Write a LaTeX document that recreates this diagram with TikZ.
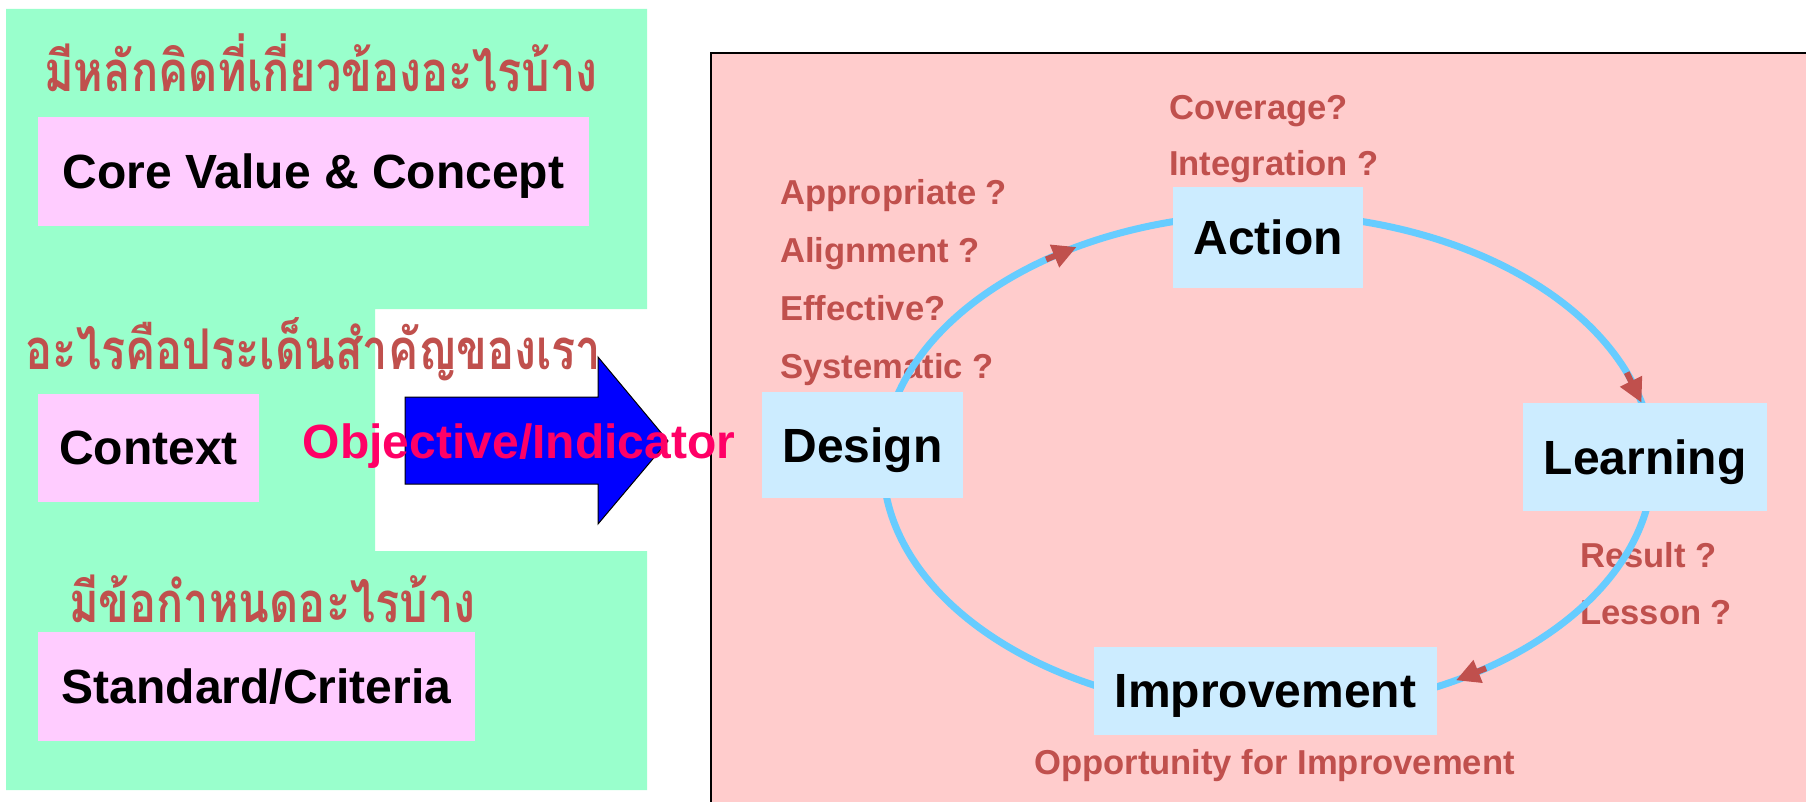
\documentclass[tikz,border=0pt]{standalone}
\usepackage{fontspec}
\setmainfont{Liberation Sans}
\newfontfamily\thaifont[Script=Thai]{Loma}
\usetikzlibrary{arrows.meta,calc}

\definecolor{panelgreen}{HTML}{99FFCC}
\definecolor{panelpink}{HTML}{FFCCCC}
\definecolor{boxpink}{HTML}{FFCCFF}
\definecolor{boxblue}{HTML}{CCECFF}
\definecolor{ringblue}{HTML}{66CCFF}
\definecolor{askred}{HTML}{C0504D}
\definecolor{objred}{HTML}{FF0066}

\newcommand{\thaiq}[1]{\scalebox{0.866}[1.08]{#1}}

\begin{document}
\begin{tikzpicture}[x = 1pt, y = -1pt,
  thai/.style = {anchor = base west, text = askred, inner sep = 0, font = \thaifont\bfseries\fontsize{52}{60}\selectfont},
  leftbox/.style = {fill = boxpink, inner sep = 0, text depth = 0pt, font = \bfseries\fontsize{48}{56}\selectfont},
  stagebox/.style = {fill = boxblue, inner sep = 0, text depth = 0pt, font = \bfseries\fontsize{48}{56}\selectfont},
  ask/.style = {anchor = base west, text = askred, inner sep = 0, font = \bfseries\fontsize{34.6}{40}\selectfont},
  ringarrow/.style = {draw = askred, line width = 6pt, -{Triangle[length = 24pt, width = 23pt]}}]
\clip (0,0) rectangle (1806,802);
\fill[white] (0,0) rectangle (1806,802);
% left panel, cut out where the arrow sits
\fill[panelgreen] (6,9) -- (647,9) -- (647,309) -- (375,309) -- (375,551) -- (647,551) -- (647,790) -- (6,790) -- cycle;
\filldraw[fill = panelpink, draw = black, line width = 1.5pt] (711,53) rectangle (1830,830);

\node[thai] (q1) at (44,92) {\thaiq{มีหลักคิดที่เกี่ยวข้องอะไรบ้าง}};
\node[leftbox, minimum width = 551pt, minimum height = 109pt] (core) at (313.5,171.5) {Core Value \& Concept};
\node[thai] (q2) at (25,369) {\thaiq{อะไรคือประเด็นสำคัญของเรา}};
\node[leftbox, minimum width = 221pt, minimum height = 108pt] (context) at (148.5,448) {Context};
\node[thai] (q3) at (69,622) {\thaiq{มีข้อกำหนดอะไรบ้าง}};
\node[leftbox, minimum width = 437pt, minimum height = 109pt] (standard) at (256.5,686.5) {Standard/Criteria};

% big arrow into the cycle
\filldraw[fill = blue, draw = black, line width = 1pt] (405,397) -- (598,397) -- (598,357) -- (668,441) -- (598,524) -- (598,484) -- (405,484) -- cycle;
\node[anchor = base, text = objred, inner sep = 0, font = \bfseries\fontsize{48}{56}\selectfont] (objective) at (519,458) {Objective/Indicator};

% questions
\node[ask] (coverage) at (1169,120) {Coverage?};
\node[ask] (integration) at (1169,176) {Integration ?};
\node[ask] (appropriate) at (780,205) {Appropriate ?};
\node[ask] (alignment) at (780,263) {Alignment ?};
\node[ask] (effective) at (780,320) {Effective?};
\node[ask] (systematic) at (780,378) {Systematic ?};
\node[ask] (result) at (1580,567) {Result ?};
\node[ask] (lesson) at (1580,624) {Lesson ?};
\node[ask] (opportunity) at (1034,774) {Opportunity for Improvement};

% the cycle
\coordinate (ring) at (1268,463);
\draw[ringblue, line width = 7pt] (ring) ellipse [x radius = 385pt, y radius = 249pt];
\foreach \name/\from/\to in {a/125.2/119.8, b/21.3/14, c/-55.5/-60.8} {
  \coordinate (\name s) at ($(ring) + ({385*cos(\from)}, {-249*sin(\from)})$);
  \coordinate (\name e) at ($(ring) + ({385*cos(\to)}, {-249*sin(\to)})$);
  \draw[ringarrow] (\name s) -- (\name e);
}

\node[stagebox, minimum width = 190pt, minimum height = 101pt] (action) at (1268,237.5) {Action};
\node[stagebox, minimum width = 201pt, minimum height = 106pt] (design) at (862.5,445) {Design};
\node[stagebox, minimum width = 244pt, minimum height = 108pt] (learning) at (1645,457) {Learning};
\node[stagebox, minimum width = 343pt, minimum height = 88pt] (improvement) at (1265.5,691) {Improvement};
\end{tikzpicture}
\end{document}
